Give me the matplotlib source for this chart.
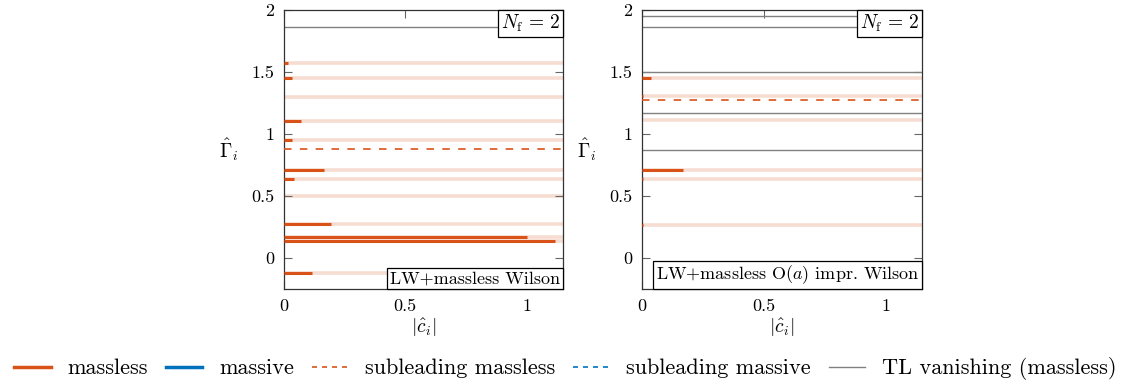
import matplotlib
matplotlib.use("Agg")
import matplotlib.pyplot as plt
from matplotlib.lines import Line2D
from matplotlib.offsetbox import AnchoredText

plt.rcParams['font.family'] = 'serif'
plt.rcParams['font.serif'] = ['cmr10', 'DejaVu Serif']
plt.rcParams['mathtext.fontset'] = 'cm'
plt.rcParams['axes.formatter.use_mathtext'] = True
plt.rcParams['font.size'] = 13

# ---------------- data ----------------
left_gamma = [1.570, 1.449, 1.296, 1.107, 0.952, 0.710, 0.637, 0.500, 0.272, 0.172, 0.134, -0.124]
left_c = [0.015, 0.034, 0.0, 0.069, 0.032, 0.165, 0.043, 0.0, 0.192, 1.001, 1.115, 0.117]
left_sub = [0.879]
left_tl = [1.865]

right_gamma = [1.454, 1.305, 1.113, 0.710, 0.636, 0.270]
right_c = [0.036, 0.004, 0.0, 0.167, 0.005, 0.003]
right_sub = [1.271]
right_tl = [1.954, 1.865, 1.501, 1.168, 0.874]

xticks = [0, 0.5, 1]
xtick_labels = ['0', '0.5', '1']
yticks = [0, 0.5, 1, 1.5, 2]
ytick_labels = ['0', '0.5', '1', '1.5', '2']

panel_titles = ['LW+massless Wilson', r'LW+massless O($a$) impr. Wilson']
nf_label = r'$N_\mathrm{f}\,=\,2$'
legend_labels = ['massless', 'massive', 'subleading massless', 'subleading massive',
                 'TL vanishing (massless)']

ORANGE = '#D95319'
BLUE = '#0072BD'
GRAY = '#808080'
XMAX = 1.15

fig = plt.figure(figsize=(11.35, 3.90), dpi=100)
W, H = 1135, 390
ax_l = fig.add_axes([284 / W, 1 - 289 / H, 279 / W, 279 / H])
ax_r = fig.add_axes([642 / W, 1 - 289 / H, 280 / W, 279 / H])


def draw(ax, gam, cs, sub, tl, title):
    ax.hlines(gam, 0, XMAX, color=ORANGE, alpha=0.2, lw=2.6, zorder=1)
    for g, c in zip(gam, cs):
        if c > 0:
            ax.hlines(g, 0, c, color=ORANGE, lw=2.2, zorder=3)
    for s in sub:
        ln, = ax.plot([0, XMAX], [s, s], color=ORANGE, lw=1.2, zorder=3)
        ln.set_dashes([4.5, 5.0])
    ax.hlines(tl, 0, XMAX, color=GRAY, lw=1.0, zorder=2)
    ax.set_xlim(0, XMAX)
    ax.set_ylim(-0.25, 2)
    ax.set_xticks(xticks, xtick_labels)
    ax.set_yticks(yticks, ytick_labels)
    ax.tick_params(direction='in', length=6, width=0.8, color='#666666',
                   top=True, right=True, labelsize=13, pad=7)
    for sp in ax.spines.values():
        sp.set_linewidth(0.9)
        sp.set_color('#333333')
    ax.set_ylabel(r'$\hat{\Gamma}_i$', rotation=0, fontsize=14, ha='center', va='center')
    ax.yaxis.set_label_coords(-0.20, 0.50)
    ax.set_xlabel(r'$|\hat{c}_i|$', fontsize=14, ha='center', va='center')
    ax.xaxis.set_label_coords(0.50, -0.14)
    at = AnchoredText(nf_label, loc='upper right', frameon=True, borderpad=0.0,
                      pad=0.15, prop=dict(size=14))
    at.patch.set_linewidth(0.9)
    at.patch.set_boxstyle('square,pad=0')
    at.zorder = 5
    ax.add_artist(at)
    bt = AnchoredText(title, loc='lower right', frameon=True, borderpad=0.0,
                      pad=0.15, prop=dict(size=13))
    bt.patch.set_linewidth(0.9)
    bt.patch.set_boxstyle('square,pad=0')
    bt.zorder = 5
    ax.add_artist(bt)


draw(ax_l, left_gamma, left_c, left_sub, left_tl, panel_titles[0])
draw(ax_r, right_gamma, right_c, right_sub, right_tl, panel_titles[1])

h1 = Line2D([], [], color=ORANGE, lw=2.5)
h2 = Line2D([], [], color=BLUE, lw=2.5)
h3 = Line2D([], [], color=ORANGE, lw=1.2, dashes=[3, 3])
h4 = Line2D([], [], color=BLUE, lw=1.2, dashes=[3, 3])
h5 = Line2D([], [], color=GRAY, lw=1.0)
fig.legend([h1, h2, h3, h4, h5], legend_labels, ncol=5, loc='center',
           bbox_to_anchor=(0.498, 1 - 369 / H), frameon=False, fontsize=16,
           handlelength=1.65, handletextpad=0.75, columnspacing=0.8,
           borderaxespad=0, borderpad=0)

fig.savefig('out.png', dpi=100)
